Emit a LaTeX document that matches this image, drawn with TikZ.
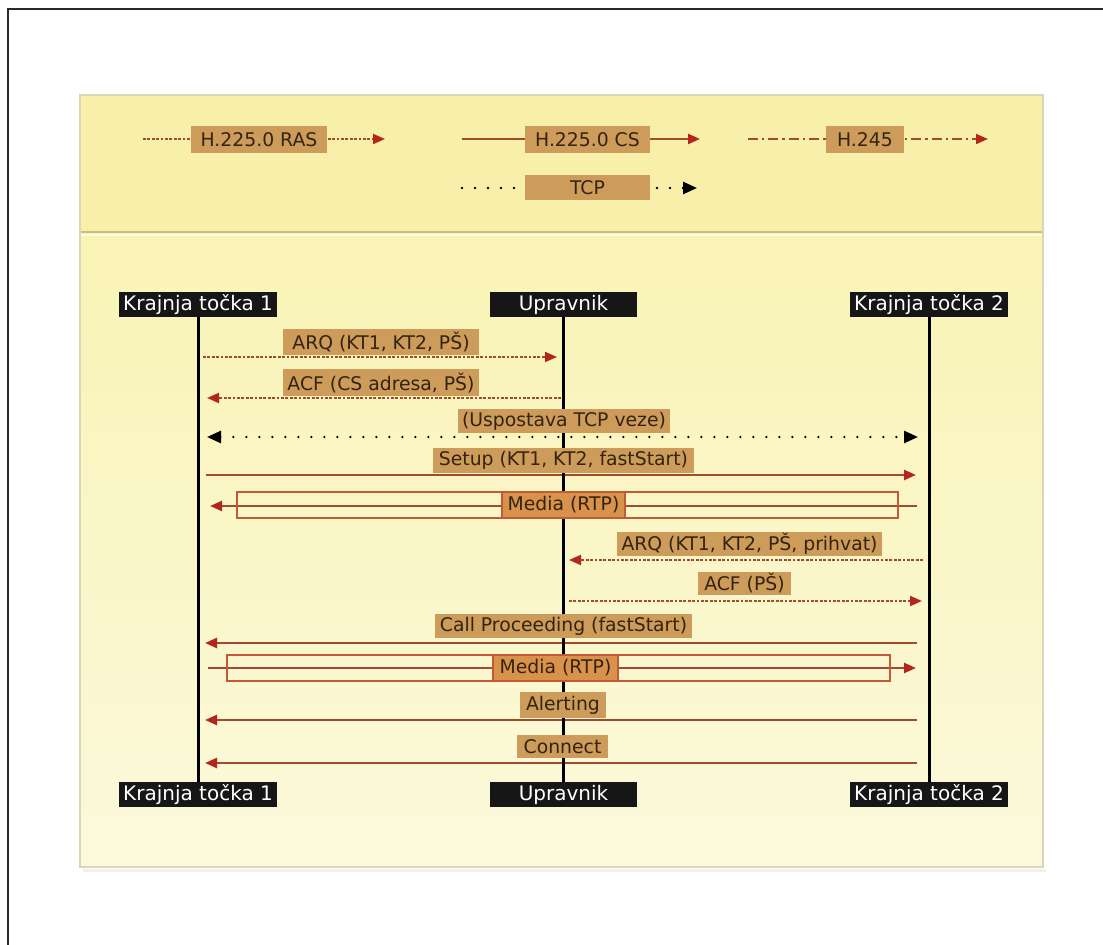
\documentclass[tikz,border=0pt]{standalone}
\usepackage{fontspec}
\setmainfont{DejaVu Sans}
\usetikzlibrary{arrows.meta}
\definecolor{lblfill}{HTML}{CD9B5A}
\definecolor{lbltext}{HTML}{33240F}
\definecolor{mediafill}{HTML}{D8924C}
\definecolor{mediaedge}{HTML}{C25A38}
\definecolor{msgred}{HTML}{A04A2E}
\definecolor{tipred}{HTML}{B3261C}
\definecolor{hdrblack}{HTML}{161616}
\definecolor{bandyellow}{HTML}{F8F0AA}
\definecolor{lowtop}{HTML}{F9F3B4}
\definecolor{lowbot}{HTML}{FBF9DC}
\definecolor{sepcol}{HTML}{C9BE7C}
\definecolor{paneledge}{HTML}{DCD6B8}
\definecolor{framecol}{HTML}{2A2A2A}
\begin{document}
\begin{tikzpicture}[x=0.5pt,y=-0.5pt,
  hdr/.style={fill=hdrblack, text=white, font=\fontsize{10}{12}\selectfont, minimum height=12.5pt, inner sep=0pt},
  lbl/.style={fill=lblfill, text=lbltext, font=\fontsize{9.4}{11}\selectfont, minimum height=12.5pt, inner sep=0pt},
  medialbl/.style={lbl, fill=mediafill, draw=mediaedge, line width=0.8pt, minimum height=13pt},
  mediabox/.style={draw=mediaedge, line width=0.8pt, minimum height=13pt, inner sep=0pt},
  life/.style={draw=black, line width=1.5pt},
  redtip/.style={-{Triangle[length=6pt,width=5pt,color=tipred]}},
  ras/.style={draw=msgred, line width=1pt, dash pattern=on 1.4pt off 0.8pt, redtip},
  cs/.style={draw=msgred, line width=1.2pt, redtip},
  hts/.style={draw=msgred, line width=1pt, dash pattern=on 5pt off 2pt on 1.2pt off 2pt, redtip},
  tcp/.style={draw=black, line width=1.3pt, line cap=round, dash pattern=on 0pt off 6.5pt, -{Triangle[length=7pt,width=6pt,color=black]}},
  tcpboth/.style={draw=black, line width=1.3pt, line cap=round, dash pattern=on 0pt off 6.5pt, {Triangle[length=7pt,width=6pt,color=black]}-{Triangle[length=7pt,width=6pt,color=black]}}
]
\useasboundingbox (0,0) rectangle (1103,945);
\fill[white] (0,0) rectangle (1103,945);
% outer frame (top and left)
\draw[framecol, line width=1pt] (8,945) -- (8,9) -- (1103,9);
% panel
\fill[black!6] (83,869) rectangle (1046,872);
\fill[bandyellow] (80,95) rectangle (1043,232);
\shade[top color=lowtop, bottom color=lowbot] (80,232) rectangle (1043,867);
\draw[sepcol, line width=1.2pt] (80,232) -- (1043,232);
\draw[white!60!lowtop, line width=0.8pt] (80,235) -- (1043,235);
\draw[paneledge, line width=0.8pt] (80,95) rectangle (1043,867);

% ---------- legend ----------
\coordinate (l1a) at (143,139); \coordinate (l1b) at (385,139);
\coordinate (l2a) at (462,139); \coordinate (l2b) at (700,139);
\coordinate (l3a) at (748,139); \coordinate (l3b) at (988,139);
\coordinate (l4a) at (462,188); \coordinate (l4b) at (697,188);
\draw[ras] (l1a) -- (l1b);
\draw[cs] (l2a) -- (l2b);
\draw[hts] (l3a) -- (l3b);
\draw[tcp] (l4a) -- (l4b);
\node[lbl, minimum width=68pt, minimum height=13.5pt] (legras) at (259,139.5) {H.225.0 RAS};
\node[lbl, minimum width=62.5pt, minimum height=13.5pt] (legcs) at (587.5,139.5) {H.225.0 CS};
\node[lbl, minimum width=39pt, minimum height=13.5pt] (leght) at (865,139.5) {H.245};
\node[lbl, minimum width=62.5pt] (legtcp) at (587.5,187.5) {TCP};

% ---------- participants ----------
\node[hdr, minimum width=79pt] (kt1t) at (198,304.5) {Krajnja točka 1};
\node[hdr, minimum width=73.5pt] (upt) at (563.5,304.5) {Upravnik};
\node[hdr, minimum width=79pt] (kt2t) at (929,304.5) {Krajnja točka 2};
\node[hdr, minimum width=79pt] (kt1b) at (198,795) {Krajnja točka 1};
\node[hdr, minimum width=73.5pt] (upb) at (563.5,795) {Upravnik};
\node[hdr, minimum width=79pt] (kt2b) at (929,795) {Krajnja točka 2};

% ---------- message end points ----------
\coordinate (m1a) at (203,357); \coordinate (m1b) at (557,357);
\coordinate (m2a) at (561,398); \coordinate (m2b) at (207,398);
\coordinate (m3a) at (207,437); \coordinate (m3b) at (918,437);
\coordinate (m4a) at (206,475); \coordinate (m4b) at (916,475);
\coordinate (m5a) at (917,506); \coordinate (m5b) at (210,506);
\coordinate (m6a) at (923,560); \coordinate (m6b) at (569,560);
\coordinate (m7a) at (569,601); \coordinate (m7b) at (922,601);
\coordinate (m8a) at (917,643); \coordinate (m8b) at (205,643);
\coordinate (m9a) at (208,668); \coordinate (m9b) at (916,668);
\coordinate (m10a) at (917,720); \coordinate (m10b) at (205,720);
\coordinate (m11a) at (917,763); \coordinate (m11b) at (205,763);

\draw[ras] (m1a) -- (m1b);
\draw[ras] (m2a) -- (m2b);
\draw[tcpboth] (m3a) -- (m3b);
\draw[cs] (m4a) -- (m4b);
\draw[cs] (m5a) -- (m5b);
\draw[ras] (m6a) -- (m6b);
\draw[ras] (m7a) -- (m7b);
\draw[cs] (m8a) -- (m8b);
\draw[cs] (m9a) -- (m9b);
\draw[cs] (m10a) -- (m10b);
\draw[cs] (m11a) -- (m11b);

% media frames
\node[mediabox, minimum width=330.5pt] (rtp1) at (567.5,505) {};
\node[mediabox, minimum width=331.5pt] (rtp2) at (558.5,668) {};

% lifelines
\draw[life] (kt1t.south) -- (kt1b.north);
\draw[life] (upt.south) -- (upb.north);
\draw[life] (kt2t.south) -- (kt2b.north);

% ---------- labels ----------
\node[lbl, minimum width=98pt, minimum height=13pt] (t1) at (381,342) {ARQ (KT1, KT2, PŠ)};
\node[lbl, minimum width=98pt, minimum height=13.5pt] (t2) at (381,383) {ACF (CS adresa, PŠ)};
\node[lbl, minimum width=106pt, minimum height=12pt] (t3) at (564,421.5) {(Uspostava TCP veze)};
\node[lbl, minimum width=130.5pt] (t4) at (563.5,460.5) {Setup (KT1, KT2, fastStart)};
\node[medialbl, minimum width=61.5pt] (t5) at (563.5,505) {Media (RTP)};
\node[lbl, minimum width=132.5pt, minimum height=12pt] (t6) at (749.5,544) {ARQ (KT1, KT2, PŠ, prihvat)};
\node[lbl, minimum width=46.5pt, minimum height=11.5pt] (t7) at (744.5,583.5) {ACF (PŠ)};
\node[lbl, minimum width=128.5pt, minimum height=12pt] (t8) at (563.5,626) {Call Proceeding (fastStart)};
\node[medialbl, minimum width=62.5pt] (t9) at (555.5,668) {Media (RTP)};
\node[lbl, minimum width=43pt, minimum height=13pt] (t10) at (563,705) {Alerting};
\node[lbl, minimum width=45.5pt, minimum height=11.5pt] (t11) at (562.5,746.5) {Connect};
\end{tikzpicture}
\end{document}
